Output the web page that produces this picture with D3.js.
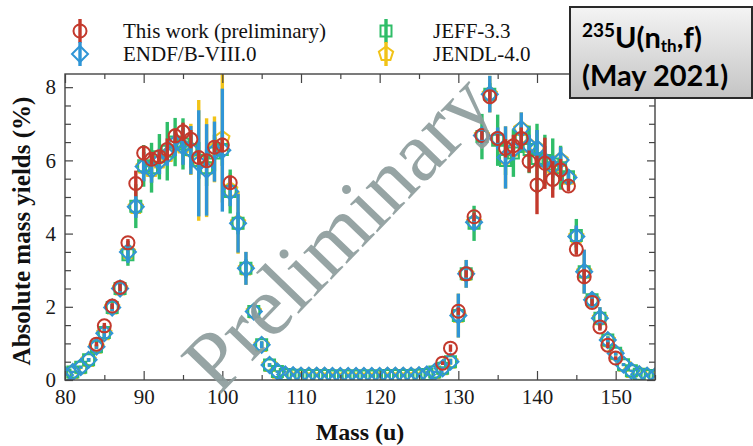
<!DOCTYPE html>
<html><head><meta charset="utf-8">
<script src="https://cdn.jsdelivr.net/npm/d3@7"></script>
<style>body{margin:0;background:#fff}svg{display:block}</style>
</head><body>
<svg id="chart" width="753" height="446"></svg>
<script>
// Mass number axis (u)
const masses = [80,81,82,83,84,85,86,87,88,89,90,91,92,93,94,95,96,97,98,99,
  100,101,102,103,104,105,106,107,108,109,110,111,112,113,114,115,116,117,118,119,
  120,121,122,123,124,125,126,127,128,129,130,131,132,133,134,135,136,137,138,139,
  140,141,142,143,144,145,146,147,148,149,150,151,152,153,154,155];

// ENDF/B-VIII.0 absolute yields (%) and uncertainties
const endfYield = [0.14,0.22,0.35,0.55,0.91,1.28,1.98,2.50,3.50,4.73,
  5.83,5.74,5.97,6.15,6.47,6.38,6.28,5.92,5.74,6.24,
  6.28,5.15,4.28,3.05,1.87,0.96,0.41,0.23,0.15,0.13,
  0.12,0.12,0.12,0.12,0.11,0.11,0.11,0.11,0.11,0.11,
  0.11,0.12,0.12,0.12,0.12,0.13,0.15,0.22,0.32,0.50,
  1.76,2.90,4.31,6.68,7.81,6.60,6.08,6.30,6.86,6.40,
  6.33,5.99,5.83,6.01,5.53,3.92,2.96,2.19,1.69,1.09,
  0.73,0.42,0.25,0.16,0.12,0.10];
const endfErr = [0.02,0.03,0.04,0.05,0.06,0.15,0.10,0.15,0.30,0.30,
  0.40,0.35,0.35,0.30,0.35,0.50,0.66,1.45,1.25,0.82,
  1.68,0.40,0.80,0.45,0.20,0.10,0.05,0.03,0.02,0.02,
  0.01,0.01,0.01,0.01,0.01,0.01,0.01,0.01,0.01,0.01,
  0.01,0.01,0.01,0.01,0.01,0.01,0.02,0.03,0.05,0.08,
  0.60,0.38,0.20,0.20,0.50,0.30,0.85,0.30,0.45,0.30,
  0.50,0.40,0.30,0.35,0.20,0.30,0.60,0.20,0.30,0.10,
  0.06,0.04,0.03,0.02,0.02,0.01];

// JEFF-3.3
const jeffYield = [0.14,0.22,0.35,0.55,0.91,1.30,1.98,2.50,3.42,4.75,
  5.85,5.80,6.10,6.25,6.50,6.45,6.30,6.00,5.80,6.20,
  6.30,5.15,4.28,3.05,1.87,0.96,0.41,0.23,0.15,0.13,
  0.12,0.12,0.12,0.12,0.11,0.11,0.11,0.11,0.11,0.11,
  0.11,0.12,0.12,0.12,0.12,0.13,0.15,0.22,0.32,0.50,
  1.76,2.90,4.28,6.65,7.81,6.55,6.00,6.20,6.60,6.30,
  6.05,6.00,5.90,5.80,5.55,3.95,2.96,2.19,1.69,1.09,
  0.73,0.42,0.25,0.16,0.12,0.10];
const jeffErr = [0.02,0.03,0.04,0.05,0.06,0.12,0.10,0.15,0.30,0.60,
  0.57,0.68,0.62,0.80,0.66,0.70,0.50,0.50,0.50,0.50,
  0.45,0.60,0.30,0.25,0.15,0.08,0.04,0.03,0.02,0.02,
  0.01,0.01,0.01,0.01,0.01,0.01,0.01,0.01,0.01,0.01,
  0.01,0.01,0.01,0.01,0.01,0.01,0.02,0.03,0.04,0.07,
  0.20,0.20,0.48,0.62,0.30,0.70,0.40,0.65,0.40,0.65,
  0.95,0.70,0.70,0.60,0.20,0.45,0.20,0.15,0.15,0.10,
  0.06,0.04,0.03,0.02,0.02,0.01];

// JENDL-4.0
const jendlYield = [0.14,0.22,0.35,0.55,0.91,1.28,1.98,2.50,3.50,4.73,
  5.83,5.74,5.97,6.15,6.47,6.38,6.30,6.00,5.80,6.30,
  6.60,5.20,4.30,3.05,1.87,0.96,0.41,0.23,0.15,0.13,
  0.12,0.12,0.12,0.12,0.11,0.11,0.11,0.11,0.11,0.11,
  0.11,0.12,0.12,0.12,0.12,0.13,0.15,0.22,0.32,0.50,
  1.76,2.90,4.31,6.68,7.81,6.60,6.08,6.30,6.86,6.40,
  6.33,5.99,5.83,6.01,5.53,3.92,2.96,2.19,1.69,1.09,
  0.73,0.42,0.25,0.16,0.12,0.10];
const jendlErr = [0.02,0.03,0.04,0.05,0.06,0.15,0.10,0.15,0.30,0.30,
  0.40,0.35,0.35,0.30,0.35,0.50,0.70,1.65,1.35,0.90,
  1.75,0.45,0.85,0.45,0.20,0.10,0.05,0.03,0.02,0.02,
  0.01,0.01,0.01,0.01,0.01,0.01,0.01,0.01,0.01,0.01,
  0.01,0.01,0.01,0.01,0.01,0.01,0.02,0.03,0.05,0.08,
  0.60,0.38,0.20,0.20,0.50,0.30,0.85,0.30,0.45,0.30,
  0.50,0.40,0.30,0.35,0.20,0.30,0.60,0.20,0.30,0.10,
  0.06,0.04,0.03,0.02,0.02,0.01];

// This work (preliminary)
const thisWorkMass = [84,85,86,87,88,89,90,91,92,93,94,95,96,97,98,99,100,101,
  128,129,130,131,132,133,134,135,136,137,138,139,140,141,142,143,144,145,146,147,148,149,150];
const thisWorkYield = [0.98,1.48,2.02,2.53,3.75,5.37,6.20,6.03,6.10,6.30,6.67,6.78,6.58,6.08,5.99,6.36,6.42,5.39,
  0.46,0.87,1.88,2.90,4.46,6.68,7.74,6.60,6.33,6.40,6.60,5.97,5.33,5.92,5.48,5.74,5.30,3.57,2.82,2.12,1.45,0.95,0.60];
const thisWorkErr = [0.06,0.08,0.08,0.10,0.10,0.35,0.20,0.15,0.15,0.30,0.20,0.25,0.25,0.15,0.15,0.15,0.20,0.20,
  0.05,0.10,0.10,0.10,0.12,0.12,0.15,0.12,0.25,0.30,0.30,0.30,0.80,0.70,0.50,0.30,0.15,0.15,0.20,0.10,0.10,0.08,0.05];

// Axis ticks
const xTickLabels = [80,90,100,110,120,130,140,150];
const xMinorTicks = [85,95,105,115,125,135,145,155];
const yTickLabels = [0,2,4,6,8];
const yMinorTicks = [0.5,1,1.5,2.5,3,3.5,4.5,5,5.5,6.5,7,7.5];

const seriesNames = ["This work (preliminary)","ENDF/B-VIII.0","JEFF-3.3","JENDL-4.0"];

const svg = d3.select("#chart");
const serif = "'Liberation Serif','Times New Roman',serif";
const plot = {left:65, right:655, top:74, bottom:380};

const x = d3.scaleLinear().domain([80,155]).range([plot.left, plot.right]);
const y = d3.scaleLinear().domain([0,8.36]).range([plot.bottom, plot.top]);

const colors = {red:"#c3392c", blue:"#2f95d6", green:"#2fbd68", yellow:"#f1c318"};

// marker path generators (centered at 0,0)
function diamond(r){ return `M0,${-r}L${r},0L0,${r}L${-r},0Z`; }
function square(r){ return `M${-r},${-r}H${r}V${r}H${-r}Z`; }
function pentagon(r){
  const pts = d3.range(5).map(i => {
    const a = -Math.PI/2 + i*2*Math.PI/5;
    return [r*Math.cos(a), r*Math.sin(a)];
  });
  return "M" + pts.map(p => p[0].toFixed(2)+","+p[1].toFixed(2)).join("L") + "Z";
}
function circle(r){ return `M${-r},0A${r},${r} 0 1,0 ${r},0A${r},${r} 0 1,0 ${-r},0Z`; }

const byName = {
  work:  {name: seriesNames[0], color: colors.red, shape: circle(6.5), mass: thisWorkMass, val: thisWorkYield, err: thisWorkErr},
  endf:  {name: seriesNames[1], color: colors.blue, shape: diamond(8), mass: masses, val: endfYield, err: endfErr},
  jeff:  {name: seriesNames[2], color: colors.green, shape: square(5.5), mass: masses, val: jeffYield, err: jeffErr},
  jendl: {name: seriesNames[3], color: colors.yellow, shape: pentagon(7.5), mass: masses, val: jendlYield, err: jendlErr}
};
// drawing order: evaluations underneath, measurement on top
const drawOrder = [byName.jendl, byName.jeff, byName.endf, byName.work];

svg.append("defs").append("clipPath").attr("id","plotClip")
  .append("rect").attr("x",plot.left).attr("y",plot.top)
  .attr("width",plot.right-plot.left).attr("height",plot.bottom-plot.top);

const dataLayer = svg.append("g").attr("clip-path","url(#plotClip)");

drawOrder.forEach(s => {
  const pts = s.mass.map((m,i) => ({m, v:s.val[i], e:s.err[i]}));
  const g = dataLayer.append("g");
  g.selectAll("line").data(pts).join("line")
    .attr("x1",d=>x(d.m)).attr("x2",d=>x(d.m))
    .attr("y1",d=>y(d.v+d.e)).attr("y2",d=>y(d.v-d.e))
    .attr("stroke",s.color).attr("stroke-width",3.4);
  g.selectAll("path").data(pts).join("path")
    .attr("d",s.shape)
    .attr("transform",d=>`translate(${x(d.m)},${y(d.v)})`)
    .attr("fill","none").attr("stroke",s.color).attr("stroke-width",2);
});

// Frame
svg.append("rect").attr("x",plot.left).attr("y",plot.top)
  .attr("width",plot.right-plot.left).attr("height",plot.bottom-plot.top)
  .attr("fill","none").attr("stroke","#444").attr("stroke-width",1.4);

function styleAxis(g){
  g.attr("font-family",serif);
  g.select(".domain").remove();
  g.selectAll(".tick line").attr("stroke","#444").attr("stroke-width",1.2);
  g.selectAll("text").attr("font-family",serif).attr("font-size",21).attr("fill","#1a1a1a");
}
const fmt = d3.format("d");
svg.append("g").attr("transform",`translate(0,${plot.bottom})`)
  .call(d3.axisBottom(x).tickValues(xTickLabels).tickFormat(fmt).tickSize(-9).tickPadding(9)).call(styleAxis);
svg.append("g").attr("transform",`translate(0,${plot.bottom})`)
  .call(d3.axisBottom(x).tickValues(xMinorTicks).tickFormat("").tickSize(-5)).call(styleAxis);
svg.append("g").attr("transform",`translate(0,${plot.top})`)
  .call(d3.axisTop(x).tickValues(xTickLabels).tickFormat("").tickSize(-9)).call(styleAxis);
svg.append("g").attr("transform",`translate(0,${plot.top})`)
  .call(d3.axisTop(x).tickValues(xMinorTicks).tickFormat("").tickSize(-5)).call(styleAxis);
svg.append("g").attr("transform",`translate(${plot.left},0)`)
  .call(d3.axisLeft(y).tickValues(yTickLabels).tickFormat(fmt).tickSize(-8).tickPadding(9)).call(styleAxis);
svg.append("g").attr("transform",`translate(${plot.left},0)`)
  .call(d3.axisLeft(y).tickValues(yMinorTicks).tickFormat("").tickSize(-6)).call(styleAxis);
svg.append("g").attr("transform",`translate(${plot.right},0)`)
  .call(d3.axisRight(y).tickValues(yTickLabels).tickFormat("").tickSize(-8)).call(styleAxis);
svg.append("g").attr("transform",`translate(${plot.right},0)`)
  .call(d3.axisRight(y).tickValues(yMinorTicks).tickFormat("").tickSize(-6)).call(styleAxis);

// Axis titles
svg.append("text").attr("x",360).attr("y",440).attr("text-anchor","middle")
  .attr("font-family",serif).attr("font-weight","bold").attr("font-size",24).attr("fill","#111")
  .text("Mass (u)");
svg.append("text").attr("transform","translate(30,231) rotate(-90)").attr("text-anchor","middle")
  .attr("font-family",serif).attr("font-weight","bold").attr("font-size",25).attr("fill","#111")
  .text("Absolute mass yields (%)");

// Legend
const legendItems = [
  {s: byName.work, x: 80, y: 31, tx: 123},
  {s: byName.endf, x: 80, y: 54, tx: 123},
  {s: byName.jeff, x: 386, y: 31, tx: 433},
  {s: byName.jendl, x: 386, y: 54, tx: 433}
];
const lg = svg.append("g");
legendItems.forEach(it => {
  lg.append("line").attr("x1",it.x).attr("x2",it.x).attr("y1",it.y-12).attr("y2",it.y+12)
    .attr("stroke",it.s.color).attr("stroke-width",3.4);
  lg.append("path").attr("d",it.s.shape).attr("transform",`translate(${it.x},${it.y})`)
    .attr("fill","none").attr("stroke",it.s.color).attr("stroke-width",2);
  lg.append("text").attr("x",it.tx).attr("y",it.y+7).attr("font-family",serif).attr("font-size",21)
    .attr("fill","#111").text(it.s.name);
});

// Watermark
svg.append("text").attr("transform","translate(337,232) rotate(-46)")
  .attr("text-anchor","middle").attr("dominant-baseline","central")
  .attr("font-family",serif).attr("font-size",85).attr("fill","#8d9c9c").attr("fill-opacity",0.92)
  .text("Preliminary");

// Reaction label box
const grad = svg.append("defs").append("linearGradient").attr("id","boxGrad")
  .attr("x1",0).attr("y1",0).attr("x2",0).attr("y2",1);
grad.append("stop").attr("offset","0%").attr("stop-color","#f4f4f4");
grad.append("stop").attr("offset","100%").attr("stop-color","#c4c4c4");
svg.append("rect").attr("x",570).attr("y",7).attr("width",182).attr("height",91)
  .attr("fill","url(#boxGrad)").attr("stroke","#2a2a2a").attr("stroke-width",2);
const boxFont = "Lato,'Open Sans',sans-serif";
const t1 = svg.append("text").attr("x",582).attr("y",48).attr("font-family",boxFont)
  .attr("font-weight","bold").attr("font-size",29).attr("fill","#000");
t1.append("tspan").attr("font-size",19).attr("dy",-11).text("235");
t1.append("tspan").attr("dy",11).text("U(n");
t1.append("tspan").attr("font-size",17).attr("dy",4).text("th");
t1.append("tspan").attr("dy",-4).text(",f)");
svg.append("text").attr("x",582).attr("y",86).attr("font-family",boxFont)
  .attr("font-weight","bold").attr("font-size",29).attr("fill","#000").text("(May 2021)");
</script>
</body></html>
